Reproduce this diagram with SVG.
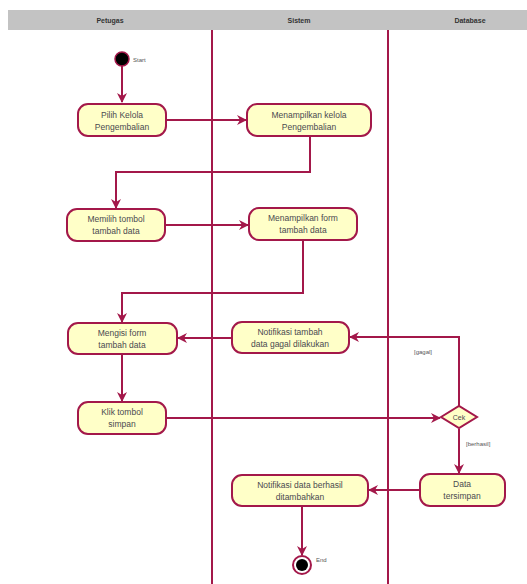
<svg xmlns="http://www.w3.org/2000/svg" width="527" height="584" viewBox="0 0 527 584">
  <style>
    .lane { stroke: #a3184a; stroke-width: 2; fill: none; }
    .act rect { fill: #ffffc8; stroke: #a3184a; stroke-width: 2; }
    .act text, .dec text { font-family: "Liberation Sans", Arial, sans-serif; font-size: 8.5px; fill: #4a4a50; text-anchor: middle; }
    .hdr { font-family: "Liberation Sans", Arial, sans-serif; font-size: 7px; font-weight: bold; fill: #333; text-anchor: middle; }
    .edge { stroke: #a3184a; stroke-width: 2; fill: none; marker-end: url(#arr); }
    text.lbl { font-family: "Liberation Sans", Arial, sans-serif; font-size: 6px; fill: #555; text-anchor: start; }
  </style>
  <defs>
    <marker id="arr" viewBox="0 0 10 10" refX="9" refY="5" markerWidth="5" markerHeight="5" orient="auto">
      <path d="M0,0 L10,5 L0,10 L3,5 Z" fill="#a3184a"/>
    </marker>
  </defs>

  <rect width="527" height="584" fill="#ffffff"/>

  <!-- swimlane header -->
  <rect x="8" y="10" width="519" height="20" fill="#c3c3c3"/>
  <text class="hdr" x="110" y="23">Petugas</text>
  <text class="hdr" x="299" y="23">Sistem</text>
  <text class="hdr" x="470" y="23">Database</text>
  <line class="lane" x1="212" y1="30" x2="212" y2="584"/>
  <line class="lane" x1="388" y1="30" x2="388" y2="584"/>

  <!-- connectors -->
  <g id="connectors">
    <path class="edge" d="M122,66 L122,102"/>
    <path class="edge" d="M166,120 L246,120"/>
    <path class="edge" d="M310,136 L310,172 L116,172 L116,208"/>
    <path class="edge" d="M165,225 L248,225"/>
    <path class="edge" d="M303,240 L303,293 L122,293 L122,322"/>
    <path class="edge" d="M232,338 L178,338"/>
    <path class="edge" d="M122,354 L122,401"/>
    <path class="edge" d="M166,418 L440,418"/>
    <path class="edge" d="M459,406 L459,337 L350,337"/>
    <path class="edge" d="M459,429 L459,473"/>
    <path class="edge" d="M420,490 L369,490"/>
    <path class="edge" d="M302,505 L302,555"/>
    <text class="lbl" x="414" y="354">[gagal]</text>
    <text class="lbl" x="466" y="446">[berhasil]</text>
  </g>

  <!-- start -->
  <g id="start">
    <circle cx="122" cy="59" r="7" fill="#000" stroke="#a3184a" stroke-width="1.5"/>
    <text class="lbl" x="133" y="62">Start</text>
  </g>

  <g id="pilih-kelola" class="act">
    <rect x="78" y="104" width="88" height="32" rx="10"/>
    <text x="122" y="118">Pilih Kelola</text>
    <text x="122" y="130">Pengembalian</text>
  </g>

  <g id="tampil-kelola" class="act">
    <rect x="247" y="104" width="124" height="32" rx="10"/>
    <text x="309" y="118">Menampilkan kelola</text>
    <text x="309" y="130">Pengembalian</text>
  </g>

  <g id="pilih-tambah" class="act">
    <rect x="67" y="209" width="98" height="32" rx="10"/>
    <text x="116" y="222">Memilih tombol</text>
    <text x="116" y="234">tambah data</text>
  </g>

  <g id="tampil-form" class="act">
    <rect x="249" y="208" width="108" height="32" rx="10"/>
    <text x="303" y="221">Menampilkan form</text>
    <text x="303" y="233">tambah data</text>
  </g>

  <g id="isi-form" class="act">
    <rect x="68" y="323" width="109" height="31" rx="10"/>
    <text x="122" y="336">Mengisi form</text>
    <text x="122" y="348">tambah data</text>
  </g>

  <g id="notif-gagal" class="act">
    <rect x="232" y="322" width="117" height="31" rx="10"/>
    <text x="290" y="335">Notifikasi tambah</text>
    <text x="290" y="347">data gagal dilakukan</text>
  </g>

  <g id="klik-simpan" class="act">
    <rect x="78" y="402" width="88" height="32" rx="10"/>
    <text x="122" y="415">Klik tombol</text>
    <text x="122" y="427">simpan</text>
  </g>

  <g id="cek" class="dec">
    <path d="M441,417 L459,406 L477,417 L459,428 Z" fill="#ffffc8" stroke="#a3184a" stroke-width="2"/>
    <text x="459" y="420" style="font-size:7px">Cek</text>
  </g>

  <g id="data-tersimpan" class="act">
    <rect x="420" y="474" width="85" height="32" rx="10"/>
    <text x="462" y="487">Data</text>
    <text x="462" y="499">tersimpan</text>
  </g>

  <g id="notif-berhasil" class="act">
    <rect x="232" y="475" width="136" height="31" rx="10"/>
    <text x="300" y="488">Notifikasi data berhasil</text>
    <text x="300" y="500">ditambahkan</text>
  </g>

  <!-- end -->
  <g id="end">
    <circle cx="302" cy="565" r="9" fill="#fff" stroke="#a3184a" stroke-width="2"/>
    <circle cx="302" cy="565" r="6" fill="#000"/>
    <text class="lbl" x="316" y="562">End</text>
  </g>
</svg>
